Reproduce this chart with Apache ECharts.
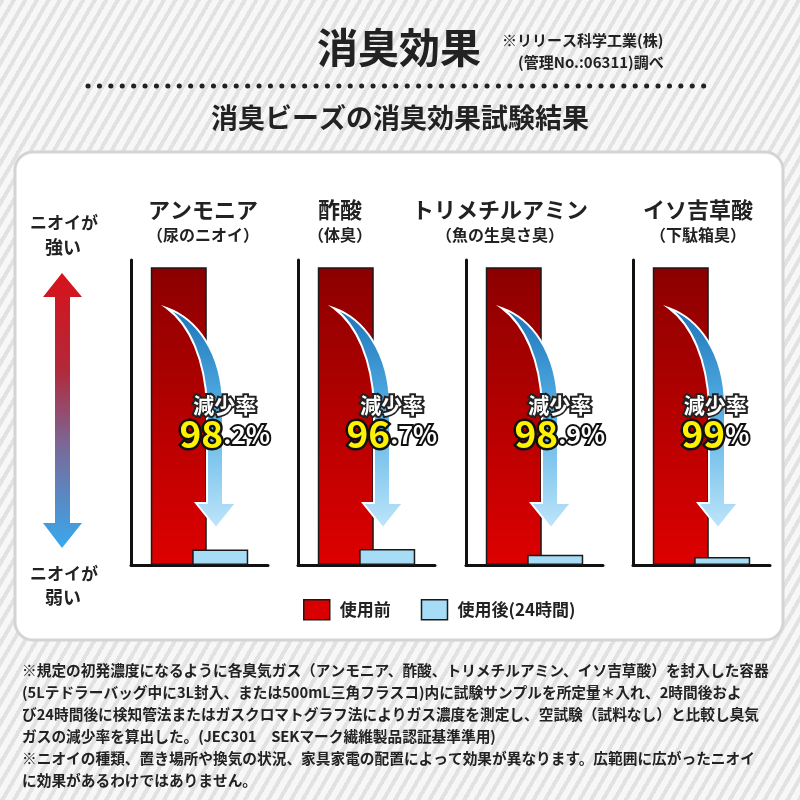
<!DOCTYPE html>
<html><head><meta charset="utf-8">
<script src="https://cdn.jsdelivr.net/npm/echarts@6/dist/echarts.min.js"></script>
<style>
html,body{margin:0;padding:0;}
body{width:800px;height:800px;background:repeating-linear-gradient(120deg,#e2e2e2 0px,#e2e2e2 4px,#f7f7f7 4px,#f7f7f7 10px);}
#main{width:800px;height:800px;}
</style></head><body><div id="main"></div>
<script>
// ---- data ----
const categories = ['アンモニア', '酢酸', 'トリメチルアミン', 'イソ吉草酸'];
const subLabels = ['（尿のニオイ）', '（体臭）', '（魚の生臭さ臭）', '（下駄箱臭）'];
const beforeValues = [100, 100, 100, 100];
const afterValues = [5.2, 5.4, 3.4, 2.7];
const reductionInt = ['98', '96', '98', '99'];
const reductionDec = ['.2', '.7', '.9', ''];
const seriesNames = ['使用前', '使用後(24時間)'];
const noteLines = [
  '※規定の初発濃度になるように各臭気ガス（アンモニア、酢酸、トリメチルアミン、イソ吉草酸）を封入した容器',
  '(5Lテドラーバッグ中に3L封入、または500mL三角フラスコ)内に試験サンプルを所定量＊入れ、2時間後およ',
  'び24時間後に検知管法またはガスクロマトグラフ法によりガス濃度を測定し、空試験（試料なし）と比較し臭気',
  'ガスの減少率を算出した。(JEC301　SEKマーク繊維製品認証基準準用)',
  '※ニオイの種類、置き場所や換気の状況、家具家電の配置によって効果が異なります。広範囲に広がったニオイ',
  'に効果があるわけではありません。'
];

// ---- layout ----
const FONT = "'Noto Sans CJK JP', 'Noto Sans', sans-serif";
const gridLefts = [131, 298, 466, 633];
const labelCenters = [203, 340, 500, 698];
const chart = echarts.init(document.getElementById('main'), null, {renderer: 'canvas'});

const mctx = document.createElement('canvas').getContext('2d');
function measure(txt, size) { mctx.font = 'bold ' + size + 'px ' + FONT; return mctx.measureText(txt).width; }

function renderArrow(params, api) {
  const topPt = api.coord([api.value(0), api.value(1)]);
  const basePt = api.coord([api.value(0), 0]);
  const cx = topPt[0], top = topPt[1], H = basePt[1] - top;
  const P = (dx, yr) => (cx + dx).toFixed(1) + ',' + (top + (yr - 267) / 298 * H).toFixed(1);
  const path = 'M' + P(-32.5, 308) +
    ' C' + P(-4.5, 318) + ' ' + P(22.5, 350) + ' ' + P(23.5, 405) +
    ' L' + P(23.5, 503) + ' L' + P(36.5, 503) + ' L' + P(16.5, 528) + ' L' + P(-3.5, 503) +
    ' L' + P(7.5, 503) + ' L' + P(7.5, 405) +
    ' C' + P(5.5, 360) + ' ' + P(-9.5, 325) + ' ' + P(-32.5, 308) + ' Z';
  const i = params.seriesIndex / 3 | 0;
  const intTxt = reductionInt[i], decTxt = reductionDec[i] + '%';
  const w = measure(intTxt, 37) + measure(decTxt, 25);
  const leftX = cx - 20;
  const y1 = top + (405 - 267) / 298 * H;
  const y2 = top + (434 - 267) / 298 * H;
  return {
    type: 'group',
    children: [
      { type: 'path', shape: { pathData: path },
        style: { fill: new echarts.graphic.LinearGradient(0, 0, 0, 1, [
            {offset: 0, color: '#1c73b8'}, {offset: 0.45, color: '#52aee4'}, {offset: 1, color: '#bfe6fa'}]),
          stroke: '#ffffff', lineWidth: 2 } },
      { type: 'text', x: leftX + w / 2, y: y1,
        style: { text: '減少率', fill: '#ffffff', stroke: '#222', lineWidth: 4,
          fontSize: 21, fontWeight: 'bold', fontFamily: FONT, align: 'center', verticalAlign: 'middle' } },
      { type: 'text', x: leftX, y: y2,
        style: { text: '{a|' + intTxt + '}{b|' + decTxt + '}', align: 'left', verticalAlign: 'middle',
          rich: {
            a: { fill: '#fff200', stroke: '#111', lineWidth: 5, fontSize: 37, fontWeight: 'bold', fontFamily: FONT },
            b: { fill: '#ffffff', stroke: '#111', lineWidth: 4, fontSize: 25, fontWeight: 'bold', fontFamily: FONT }
          } } }
    ]
  };
}

const grids = [], xAxes = [], yAxes = [], series = [];
for (let i = 0; i < 4; i++) {
  grids.push({ left: gridLefts[i], top: 260, width: 137, height: 305 });
  xAxes.push({ type: 'category', gridIndex: i, data: [categories[i]],
    axisLine: { lineStyle: { color: '#111', width: 3 } }, axisTick: { show: false }, axisLabel: { show: false } });
  yAxes.push({ type: 'value', gridIndex: i, min: 0, max: 102.4,
    axisLine: { show: true, lineStyle: { color: '#111', width: 3 } }, axisTick: { show: false },
    axisLabel: { show: false }, splitLine: { show: false } });
  series.push({ type: 'bar', name: seriesNames[0], xAxisIndex: i, yAxisIndex: i, data: [beforeValues[i]],
    barWidth: 56, barGap: '-26%', z: 2,
    itemStyle: { color: new echarts.graphic.LinearGradient(0, 0, 0, 1, [
      {offset: 0, color: '#8c0000'}, {offset: 1, color: '#de0000'}]), borderColor: '#1a1a1a', borderWidth: 1.5 } });
  series.push({ type: 'bar', name: seriesNames[1], xAxisIndex: i, yAxisIndex: i, data: [afterValues[i]],
    barWidth: 56, barGap: '-26%', z: 3,
    itemStyle: { color: '#a6dcf6', borderColor: '#1a1a1a', borderWidth: 1.5 } });
  series.push({ type: 'custom', xAxisIndex: i, yAxisIndex: i, data: [[0, beforeValues[i]]],
    renderItem: renderArrow, z: 4, silent: true });
}

const graphics = [
  { type: 'rect', z: -10, shape: { x: 15, y: 152, width: 768, height: 488, r: 18 },
    style: { fill: '#ffffff', stroke: '#d4d4d4', lineWidth: 3 } },
  { type: 'text', style: { text: '消臭効果', x: 399, y: 47, fontSize: 41, fontWeight: 'bold', fontFamily: FONT,
    fill: '#222', align: 'center', verticalAlign: 'middle' } },
  { type: 'text', style: { text: '※リリース科学工業(株)', x: 502, y: 40, fontSize: 15, fontWeight: 'bold', fontFamily: FONT,
    fill: '#222', align: 'left', verticalAlign: 'middle' } },
  { type: 'text', style: { text: '(管理No.:06311)調べ', x: 518, y: 62, fontSize: 15, fontWeight: 'bold', fontFamily: FONT,
    fill: '#222', align: 'left', verticalAlign: 'middle' } },
  { type: 'line', shape: { x1: 88, y1: 86, x2: 712, y2: 86 },
    style: { stroke: '#222', lineWidth: 5, lineCap: 'round', lineDash: [0.1, 11.3] } },
  { type: 'text', style: { text: '消臭ビーズの消臭効果試験結果', x: 400, y: 118, fontSize: 27, fontWeight: 'bold', fontFamily: FONT,
    fill: '#222', align: 'center', verticalAlign: 'middle' } },
  // left gradient arrow
  { type: 'polygon', shape: { points: [[62, 273], [82, 297], [70, 297], [70, 523], [82, 523], [62, 548], [43, 523], [55, 523], [55, 297], [43, 297]] },
    style: { fill: new echarts.graphic.LinearGradient(0, 0, 0, 1, [
      {offset: 0, color: '#d8121a'}, {offset: 0.35, color: '#b3283a'}, {offset: 0.62, color: '#7c6796'}, {offset: 1, color: '#38a9ee'}]) } },
  { type: 'text', style: { text: 'ニオイが', x: 64, y: 223, fontSize: 17, fontWeight: 'bold', fontFamily: FONT, fill: '#222', align: 'center', verticalAlign: 'middle' } },
  { type: 'text', style: { text: '強い', x: 63, y: 247, fontSize: 18, fontWeight: 'bold', fontFamily: FONT, fill: '#222', align: 'center', verticalAlign: 'middle' } },
  { type: 'text', style: { text: 'ニオイが', x: 64, y: 574, fontSize: 17, fontWeight: 'bold', fontFamily: FONT, fill: '#222', align: 'center', verticalAlign: 'middle' } },
  { type: 'text', style: { text: '弱い', x: 63, y: 597, fontSize: 18, fontWeight: 'bold', fontFamily: FONT, fill: '#222', align: 'center', verticalAlign: 'middle' } }
];
for (let i = 0; i < 4; i++) {
  graphics.push({ type: 'text', style: { text: categories[i], x: labelCenters[i], y: 210, fontSize: 22, fontWeight: 'bold',
    fontFamily: FONT, fill: '#222', align: 'center', verticalAlign: 'middle' } });
  graphics.push({ type: 'text', style: { text: subLabels[i], x: labelCenters[i], y: 235, fontSize: 16, fontWeight: 'bold',
    fontFamily: FONT, fill: '#222', align: 'center', verticalAlign: 'middle' } });
}
noteLines.forEach((t, k) => {
  graphics.push({ type: 'text', style: { text: t, x: 22, y: 670 + k * 22, fontSize: 14.7, fontWeight: 'bold',
    fontFamily: FONT, fill: '#222', align: 'left', verticalAlign: 'middle' } });
});

chart.setOption({
  backgroundColor: 'transparent',
  animation: false,
  grid: grids, xAxis: xAxes, yAxis: yAxes, series: series,
  legend: {
    left: 298, top: 594, itemWidth: 26, itemHeight: 20, itemGap: 30, icon: 'rect',
    textStyle: { fontSize: 17, fontWeight: 'bold', color: '#222', fontFamily: FONT, padding: [0, 0, 0, 5] },
    data: [
      { name: seriesNames[0], itemStyle: { color: '#d80000', borderColor: '#1a1a1a', borderWidth: 1.5 } },
      { name: seriesNames[1], itemStyle: { color: '#a6dcf6', borderColor: '#1a1a1a', borderWidth: 1.5 } }
    ]
  },
  graphic: graphics
});
</script></body></html>
